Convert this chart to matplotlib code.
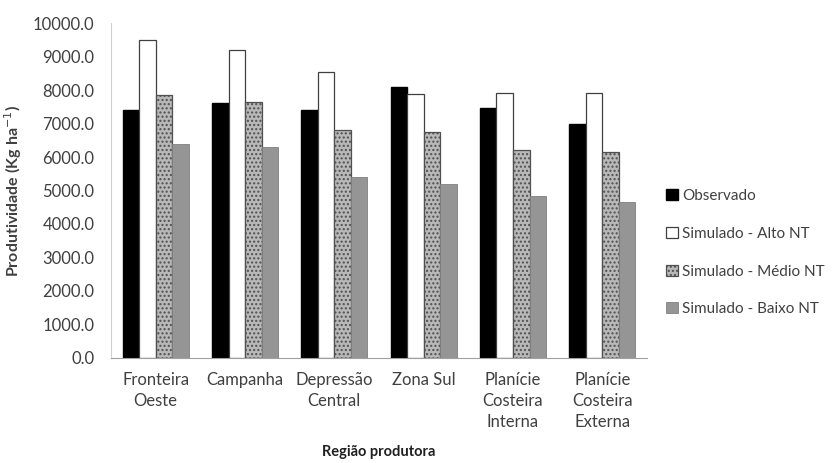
import numpy as np
import matplotlib
matplotlib.use("Agg")
import matplotlib.pyplot as plt

# dados (kg/ha)
regioes = ["Fronteira\nOeste", "Campanha", "Depressão\nCentral", "Zona Sul",
           "Planície\nCosteira\nInterna", "Planície\nCosteira\nExterna"]
observado = [7400, 7600, 7400, 8100, 7450, 7000]
alto_nt = [9500, 9200, 8550, 7870, 7900, 7900]
medio_nt = [7850, 7650, 6800, 6750, 6200, 6150]
baixo_nt = [6400, 6300, 5400, 5200, 4850, 4650]
series_nomes = ["Observado", "Simulado - Alto NT", "Simulado - Médio NT", "Simulado - Baixo NT"]
yticks = np.arange(0, 10001, 1000)

plt.rcParams['font.family'] = ['Lato', 'DejaVu Sans']
plt.rcParams['hatch.color'] = '#6a6a6a'
txt = '#404040'

fig = plt.figure(figsize=(8.33, 4.63), dpi=100)
ax = fig.add_axes([0.1333, 0.2268, 0.6434, 0.7235])

x = np.arange(len(regioes))
w = 0.185
estilos = [
    dict(color='black', edgecolor='black'),
    dict(color='white', edgecolor='#404040', linewidth=0.9),
    dict(color='#b8b8b8', edgecolor='#505050', hatch='....', linewidth=0.9),
    dict(color='#959595', edgecolor='#808080', linewidth=0.6),
]
valores = [observado, alto_nt, medio_nt, baixo_nt]
for i, (vals, st, nome) in enumerate(zip(valores, estilos, series_nomes)):
    ax.bar(x + (i - 1.5) * w, vals, w, label=nome, **st)

ax.set_xlim(-0.5, len(regioes) - 0.5)
ax.set_ylim(0, 10000)
ax.set_yticks(yticks)
ax.set_yticklabels([f"{v:.1f}" for v in yticks])
ax.set_xticks(x)
ax.set_xticklabels(regioes, linespacing=1.4)
ax.tick_params(axis='both', length=0, labelsize=12, colors=txt)
ax.tick_params(axis='x', pad=10)
ax.tick_params(axis='y', pad=12)
for s in ['top', 'right']:
    ax.spines[s].set_visible(False)
ax.spines['left'].set_color('#d0d0d0')
ax.spines['bottom'].set_color('#a0a0a0')

ax.set_ylabel("Produtividade (Kg ha$^{-1}$)", fontsize=11.5, fontweight='bold', color=txt, labelpad=6)
fig.text(ax.get_position().x0 + ax.get_position().width / 2, 1 - 452 / 463, "Região produtora",
         fontsize=10.5, fontweight='bold', color='#202020', ha='center', va='center')

ax.legend(loc='upper left', bbox_to_anchor=(1.01, 0.545), frameon=False, fontsize=11,
          labelspacing=1.55, handlelength=0.75, handleheight=0.75, handletextpad=0.3,
          labelcolor=txt)

fig.savefig("out.png", dpi=100)
